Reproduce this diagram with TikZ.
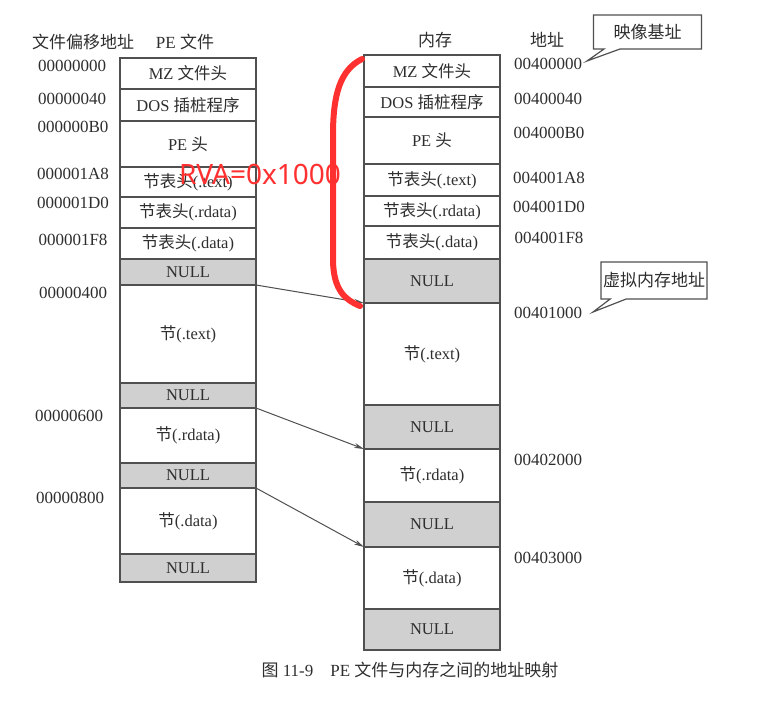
\documentclass[tikz,border=0pt]{standalone}
\usepackage{fontspec}
\setmainfont{Liberation Serif}
\newfontfamily\cjk{Noto Sans CJK SC}
\newfontfamily\rvafont{Noto Sans}
\usetikzlibrary{shapes.callouts,arrows.meta}
\definecolor{edgegray}{HTML}{505050}
\definecolor{nullgray}{HTML}{D0D0D0}
\definecolor{inkgray}{HTML}{2E2E2E}
\definecolor{penred}{HTML}{FF3030}
\newcommand{\zh}[1]{{\cjk #1}}
\tikzset{
    cell/.style={draw=edgegray, line width=1.2pt, fill=white, minimum width=136pt, inner sep=0pt, outer sep=0pt, text=inkgray, font=\fontsize{16.5}{19}\selectfont},
    nullcell/.style={cell, fill=nullgray},
    addr/.style={inner sep=0pt, text=inkgray, font=\fontsize{17}{19}\selectfont},
    maparrow/.style={draw=edgegray, line width=1pt, -{Stealth[length=10pt,width=5pt]}},
    tag/.style={rectangle callout, draw=edgegray, line width=1.2pt, fill=white, inner sep=0pt, callout pointer width=16pt, text=inkgray, font=\fontsize{17}{19}\selectfont}
}
\begin{document}
\begin{tikzpicture}[x=1pt, y=-1pt]
        \useasboundingbox (0, 0) rectangle (776, 715);

        \node[addr] (hoff) at (83, 42) {\zh{文件偏移地址}};
        \node[addr] (hfile) at (185, 42) {PE \zh{文件}};
        \node[addr] (hmem) at (435, 40) {\zh{内存}};
        \node[addr] (hva) at (547, 40) {\zh{地址}};

        \node[cell, minimum height=31pt] (f1) at (188, 73.5) {MZ \zh{文件头}};
        \node[cell, minimum height=32pt] (f2) at (188, 105) {DOS \zh{插桩程序}};
        \node[cell, minimum height=46pt] (f3) at (188, 144) {PE \zh{头}};
        \node[cell, minimum height=30pt] (f4) at (188, 182) {\zh{节表头}(.text)};
        \node[cell, minimum height=31pt] (f5) at (188, 212.5) {\zh{节表头}(.rdata)};
        \node[cell, minimum height=31pt] (f6) at (188, 243.5) {\zh{节表头}(.data)};
        \node[nullcell, minimum height=26pt] (f7) at (188, 272) {NULL};
        \node[cell, minimum height=98pt] (f8) at (188, 334) {\zh{节}(.text)};
        \node[nullcell, minimum height=25pt] (f9) at (188, 395.5) {NULL};
        \node[cell, minimum height=55pt] (f10) at (188, 435.5) {\zh{节}(.rdata)};
        \node[nullcell, minimum height=25pt] (f11) at (188, 475.5) {NULL};
        \node[cell, minimum height=66pt] (f12) at (188, 521) {\zh{节}(.data)};
        \node[nullcell, minimum height=28pt] (f13) at (188, 568) {NULL};

        \node[cell, minimum height=32pt] (m1) at (432, 71) {MZ \zh{文件头}};
        \node[cell, minimum height=30pt] (m2) at (432, 102) {DOS \zh{插桩程序}};
        \node[cell, minimum height=47pt] (m3) at (432, 140.5) {PE \zh{头}};
        \node[cell, minimum height=32pt] (m4) at (432, 180) {\zh{节表头}(.text)};
        \node[cell, minimum height=30pt] (m5) at (432, 211) {\zh{节表头}(.rdata)};
        \node[cell, minimum height=33pt] (m6) at (432, 242.5) {\zh{节表头}(.data)};
        \node[nullcell, minimum height=44pt] (m7) at (432, 281) {NULL};
        \node[cell, minimum height=102pt] (m8) at (432, 354) {\zh{节}(.text)};
        \node[nullcell, minimum height=44pt] (m9) at (432, 427) {NULL};
        \node[cell, minimum height=53pt] (m10) at (432, 475.5) {\zh{节}(.rdata)};
        \node[nullcell, minimum height=45pt] (m11) at (432, 524.5) {NULL};
        \node[cell, minimum height=62pt] (m12) at (432, 578) {\zh{节}(.data)};
        \node[nullcell, minimum height=41pt] (m13) at (432, 629.5) {NULL};

        \node[addr] (o1) at (72, 66) {00000000};
        \node[addr] (o2) at (72, 99) {00000040};
        \node[addr] (o3) at (73, 127) {000000B0};
        \node[addr] (o4) at (73, 174) {000001A8};
        \node[addr] (o5) at (73, 203) {000001D0};
        \node[addr] (o6) at (73, 240) {000001F8};
        \node[addr] (o7) at (73, 293) {00000400};
        \node[addr] (o8) at (69, 416) {00000600};
        \node[addr] (o9) at (70, 498) {00000800};

        \node[addr] (v1) at (548, 64) {00400000};
        \node[addr] (v2) at (548, 99) {00400040};
        \node[addr] (v3) at (549, 133) {004000B0};
        \node[addr] (v4) at (549, 178) {004001A8};
        \node[addr] (v5) at (549, 207) {004001D0};
        \node[addr] (v6) at (549, 238) {004001F8};
        \node[addr] (v7) at (548, 313) {00401000};
        \node[addr] (v8) at (548, 460) {00402000};
        \node[addr] (v9) at (548, 558) {00403000};

        \coordinate (tipbase) at (587, 61);
        \coordinate (tipvirt) at (593, 312);
        \node[tag, minimum width=108pt, minimum height=34pt, callout absolute pointer={(tipbase)}] (base) at (647.5, 32) {\zh{映像基址}};
        \node[tag, minimum width=106pt, minimum height=37pt, callout absolute pointer={(tipvirt)}] (virt) at (654, 280.5) {\zh{虚拟内存地址}};

        \draw[maparrow] (f8.north east) -- (m8.north west);
        \draw[maparrow] (f10.north east) -- (m10.north west);
        \draw[maparrow] (f12.north east) -- (m12.north west);

        \node[inner sep=0pt, text=penred, font=\rvafont\fontsize{28}{30}\selectfont] (rva) at (260, 174) {RVA=0x1000};
        \draw[penred, line width=6pt, line cap=round] (362, 59) .. controls (340, 70) and (333, 95) .. (333, 135) -- (333, 262) .. controls (334, 290) and (345, 300) .. (360, 306);

        \node[addr] (cap) at (410, 670) {\zh{图} 11-9\quad PE \zh{文件与内存之间的地址映射}};
\end{tikzpicture}
\end{document}
